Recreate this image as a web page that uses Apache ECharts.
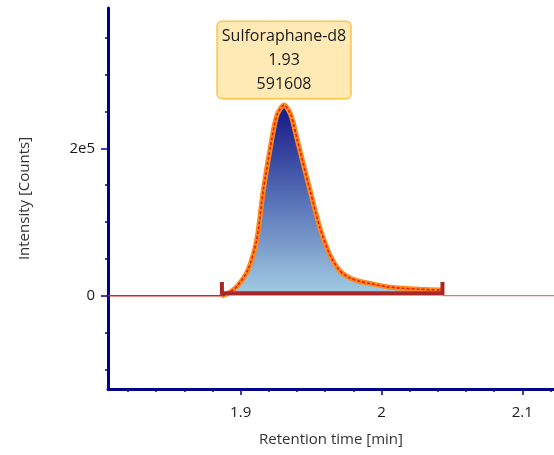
<!DOCTYPE html>
<html>
<head>
<meta charset="utf-8">
<script src="https://cdn.jsdelivr.net/npm/echarts@6/dist/echarts.min.js"></script>
<style>
  html, body { margin: 0; padding: 0; background: #fff; }
  #chart { width: 554px; height: 455px; }
</style>
</head>
<body>
<div id="chart"></div>
<script>
// retention time axis range [min]
const xRange = [1.8058, 2.1225];
const yRange = [-126600, 390400];

// tick positions
const xMajorTicks = [1.9, 2.0, 2.1];
const xMinorTicks = [1.82, 1.84, 1.86, 1.88, 1.9, 1.92, 1.94, 1.96, 1.98, 2.0, 2.02, 2.04, 2.06, 2.08, 2.1, 2.12];
const yMajorTicks = [0, 200000];
const yMinorTicks = [-100000, -50000, 0, 50000, 100000, 150000, 200000, 250000, 300000, 350000];

// chromatogram peak
const peakTime = [1.8867, 1.8901, 1.8972, 1.9052, 1.9114, 1.9161, 1.9220, 1.9258, 1.9308, 1.9357, 1.9402,
  1.9492, 1.9563, 1.9634, 1.9705, 1.9776, 1.9847, 1.9918, 2.0037, 2.0153, 2.0273, 2.0415, 2.0433];
const peakIntensity = [0, 2000, 12200, 34900, 75600, 143400, 211300, 245200, 258800, 245200, 211300,
  143400, 91900, 55200, 33500, 24000, 19300, 16600, 12200, 10000, 8700, 7700, 7500];

// trace outside the peak
const traceLeftTime = [1.8058, 1.8867];
const traceLeftIntensity = [0, 0];
const traceRightTime = [2.0433, 2.1225];
const traceRightIntensity = [0, 0];

// integration baseline with end markers
const baseTime = [1.8867, 1.8867, 2.0433, 2.0433];
const baseIntensity = [18600, 3250, 3250, 18600];

// peak annotation
const peakName = 'Sulforaphane-d8';
const peakApexTime = '1.93';
const peakArea = '591608';

const zip = (a, b) => a.map((v, i) => [v, b[i]]);

const axisColor = '#00008B';
const font = '"Open Sans", Lato, sans-serif';

const chart = echarts.init(document.getElementById('chart'));

chart.setOption({
  animation: false,
  grid: { left: 108, right: 0, top: 8, bottom: 66 },
  xAxis: [
    {
      type: 'value', min: xRange[0], max: xRange[1],
      axisLine: { onZero: false, lineStyle: { color: axisColor, width: 3 } },
      axisTick: { customValues: xMajorTicks, length: 6, lineStyle: { color: axisColor, width: 1.5 } },
      axisLabel: {
        customValues: xMajorTicks, margin: 16, color: '#1a1a1a', fontSize: 15, fontFamily: font,
        formatter: v => String(Math.round(v * 10) / 10)
      },
      splitLine: { show: false },
      name: 'Retention time [min]', nameLocation: 'middle', nameGap: 43,
      nameTextStyle: { color: '#333', fontSize: 15, fontFamily: font }
    },
    {
      type: 'value', min: xRange[0], max: xRange[1], position: 'bottom',
      axisLine: { show: false, onZero: false },
      axisTick: { customValues: xMinorTicks, length: 3, lineStyle: { color: axisColor, width: 1.5 } },
      axisLabel: { show: false },
      splitLine: { show: false }
    }
  ],
  yAxis: [
    {
      type: 'value', min: yRange[0], max: yRange[1],
      axisLine: { show: true, lineStyle: { color: axisColor, width: 3 } },
      axisTick: { show: true, customValues: yMajorTicks, length: 7, lineStyle: { color: axisColor, width: 1.5 } },
      axisLabel: {
        customValues: yMajorTicks, margin: 13, color: '#1a1a1a', fontSize: 15, fontFamily: font,
        formatter: v => (v === 0 ? '0' : (v / 100000) + 'e5')
      },
      splitLine: { show: false },
      name: 'Intensity [Counts]', nameLocation: 'middle', nameGap: 76,
      nameTextStyle: { color: '#333', fontSize: 15, fontFamily: font }
    },
    {
      type: 'value', min: yRange[0], max: yRange[1], position: 'left',
      axisLine: { show: false },
      axisTick: { show: true, customValues: yMinorTicks, length: 3, lineStyle: { color: axisColor, width: 1.5 } },
      axisLabel: { show: false },
      splitLine: { show: false }
    }
  ],
  series: [
    {
      type: 'line', data: zip(traceLeftTime, traceLeftIntensity), symbol: 'none',
      lineStyle: { color: '#e41e26', width: 1.5 }
    },
    {
      type: 'line', data: zip(traceRightTime, traceRightIntensity), symbol: 'none',
      lineStyle: { color: '#f0707a', width: 1.3 }
    },
    {
      type: 'line', data: zip(peakTime, peakIntensity), symbol: 'none', smooth: 0.25,
      lineStyle: { color: '#ff8a1c', width: 5 },
      areaStyle: {
        opacity: 1,
        color: new echarts.graphic.LinearGradient(0, 0, 0, 1, [
          { offset: 0, color: '#141787' },
          { offset: 0.45, color: '#5068b2' },
          { offset: 1, color: '#a3cde3' }
        ])
      },
      markPoint: {
        symbol: 'circle', symbolSize: 0,
        data: [{ coord: [1.9308, 258800] }],
        label: {
          show: true, position: 'top', distance: 7,
          formatter: [peakName, peakApexTime, peakArea].join('\n'),
          color: '#1a1a1a', fontSize: 16, lineHeight: 24, fontFamily: font, align: 'center',
          backgroundColor: '#ffe9b5', borderColor: '#ffc24a', borderWidth: 1.5, borderRadius: 4,
          padding: [2, 4, 2, 4]
        }
      }
    },
    {
      type: 'line', data: zip(peakTime, peakIntensity), symbol: 'none', smooth: 0.25,
      lineStyle: { color: '#e8101a', width: 1.5, type: [3, 2] }
    },
    {
      type: 'line', data: zip(baseTime, baseIntensity), symbol: 'none',
      lineStyle: { color: '#a8282a', width: 4, cap: 'butt', join: 'miter' }
    }
  ]
});
</script>
</body>
</html>
